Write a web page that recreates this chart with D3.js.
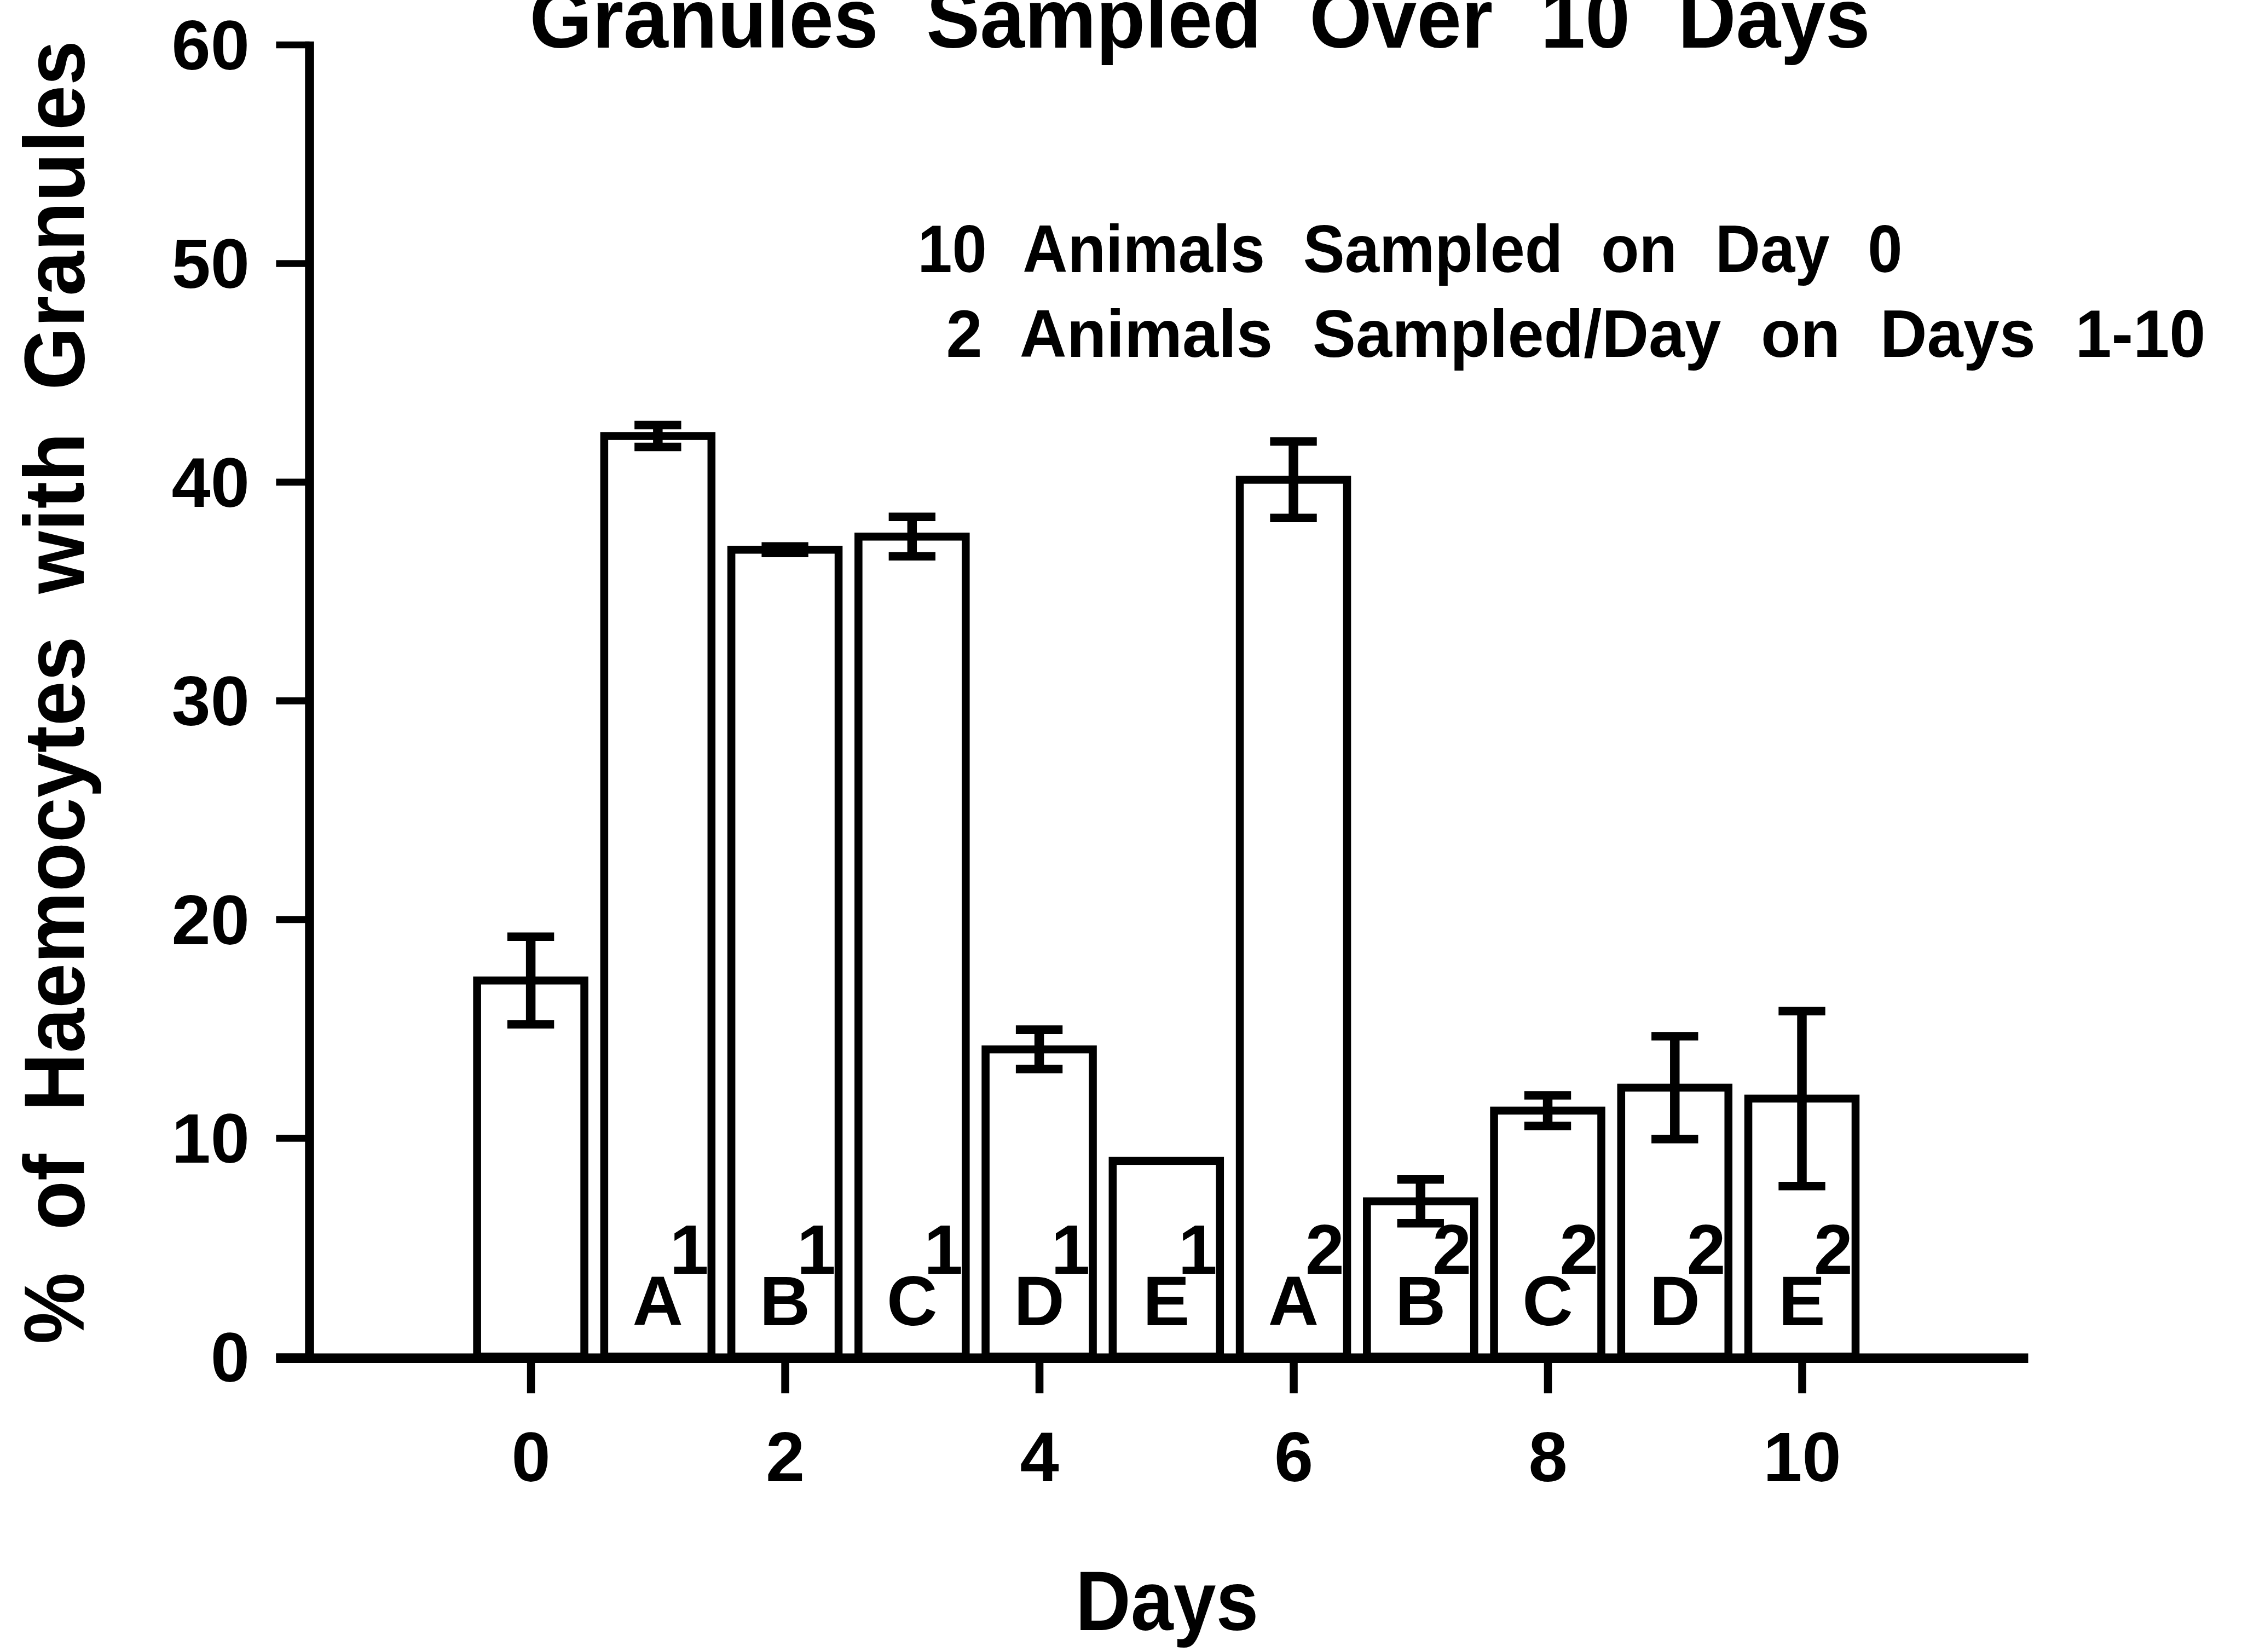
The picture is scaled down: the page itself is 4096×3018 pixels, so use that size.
<!DOCTYPE html>
<html>
<head>
<meta charset="utf-8">
<script src="https://cdn.jsdelivr.net/npm/d3@7"></script>
<style>
  html, body { margin: 0; padding: 0; background: #fff; overflow: hidden; }
  text { font-family: "Liberation Sans", Arial, Helvetica, sans-serif; font-weight: bold; fill: #000; }
</style>
</head>
<body>
<svg id="chart" width="4096" height="3018"></svg>
<script>
// Percentage of haemocytes with granules, per sampling day (mean and error)
const days       = [0, 1, 2, 3, 4, 5, 6, 7, 8, 9, 10];
const meanPct    = [17.2, 42.1, 36.9, 37.5, 14.05, 8.95, 40.1, 7.1, 11.25, 12.3, 11.8];
const errPct     = [2.0, 0.5, 0.15, 0.9, 0.9, 0, 1.75, 1.0, 0.7, 2.35, 4.0];
const animalTag  = ["", "A", "B", "C", "D", "E", "A", "B", "C", "D", "E"];
const roundTag   = ["", "1", "1", "1", "1", "1", "2", "2", "2", "2", "2"];

const xTicks = [0, 2, 4, 6, 8, 10];
const yTicks = [0, 10, 20, 30, 40, 50, 60];

const titleText = "Granules Sampled Over 10 Days";
const noteLines = ["10 Animals Sampled on Day 0", "2 Animals Sampled/Day on Days 1-10"];
const xTitle = "Days";
const yTitle = "% of Haemocytes with Granules";

// Layout is laid out on a 4220 x 3109 grid and scaled down to the window
const S = 0.97;
const svg = d3.select("#chart");
const root = svg.append("g").attr("transform", `scale(${S})`);

const xLo = -1.74, xHi = 11.78;
const x = d3.scaleLinear().domain([xLo, xHi]).range([583, 3820]);
const y = d3.scaleLinear().domain([0, 60]).range([2555, 84]);

const axisW = 17, tickW = 13, yTickLen = 63;
const barHalf = 101, barStroke = 15;
const capHalf = 44;
const labelSize = 132;

// ---- y axis ----
const yAxis = root.append("g")
  .attr("transform", `translate(${x(xLo)},0)`)
  .call(d3.axisLeft(y).tickValues(yTicks).tickSize(yTickLen).tickSizeOuter(0)
        .tickPadding(50).tickFormat(d3.format("d")));
yAxis.select(".domain").attr("stroke", "#000").attr("stroke-width", axisW)
  .attr("d", `M0,${y(60) - 6}V${y(0) + 4}`);
yAxis.selectAll(".tick line").attr("stroke", "#000").attr("stroke-width", tickW);
yAxis.selectAll(".tick text").attr("font-size", labelSize).attr("dy", "0.35em")
  .style("font-family", '"Liberation Sans", Arial, sans-serif').style("font-weight", "bold");

// ---- x axis ----
const xBase = y(0) + 3;
const xAxis = root.append("g")
  .attr("transform", `translate(0,${xBase})`)
  .call(d3.axisBottom(x).tickValues(xTicks).tickSize(66).tickSizeOuter(0)
        .tickPadding(72).tickFormat(d3.format("d")));
xAxis.select(".domain").remove();
xAxis.selectAll(".tick line").attr("stroke", "#000").attr("stroke-width", 15);
xAxis.selectAll(".tick text").attr("font-size", labelSize)
  .style("font-family", '"Liberation Sans", Arial, sans-serif').style("font-weight", "bold");
root.append("line")
  .attr("x1", x(xLo) - yTickLen).attr("x2", x(xHi))
  .attr("y1", xBase).attr("y2", xBase)
  .attr("stroke", "#000").attr("stroke-width", 18);

// ---- bars ----
const rows = days.map((d, i) => ({ d, m: meanPct[i], e: errPct[i], a: animalTag[i], r: roundTag[i] }));

root.append("g").selectAll("rect").data(rows).join("rect")
  .attr("x", r => x(r.d) - barHalf)
  .attr("width", barHalf * 2)
  .attr("y", r => y(r.m))
  .attr("height", r => y(0) - y(r.m))
  .attr("fill", "#fff")
  .attr("stroke", "#000")
  .attr("stroke-width", barStroke);

// ---- error bars ----
const eb = root.append("g").selectAll("g").data(rows.filter(r => r.e > 0)).join("g");
eb.append("line")
  .attr("x1", r => x(r.d)).attr("x2", r => x(r.d))
  .attr("y1", r => y(r.m + r.e)).attr("y2", r => y(r.m - r.e))
  .attr("stroke", "#000").attr("stroke-width", 18);
[1, -1].forEach(sgn => {
  eb.append("line")
    .attr("x1", r => x(r.d) - capHalf).attr("x2", r => x(r.d) + capHalf)
    .attr("y1", r => y(r.m + sgn * r.e)).attr("y2", r => y(r.m + sgn * r.e))
    .attr("stroke", "#000").attr("stroke-width", 16);
});

// ---- animal letter with sampling-round superscript inside each bar ----
const tagged = rows.filter(r => r.a);
const tags = root.append("g").selectAll("text").data(tagged).join("text")
  .attr("text-anchor", "middle").attr("font-size", labelSize);
tags.append("tspan")
  .attr("x", r => x(r.d)).attr("y", y(0) - 59)
  .text(r => r.a);
tags.append("tspan")
  .attr("x", r => x(r.d) + 59).attr("y", y(0) - 156)
  .text(r => r.r);

// ---- titles and notes ----
root.append("text")
  .attr("x", 2260).attr("y", 90)
  .attr("text-anchor", "middle").attr("font-size", 158)
  .style("word-spacing", "50px")
  .attr("textLength", 2525).attr("lengthAdjust", "spacingAndGlyphs")
  .text(titleText);

const noteX = [1728, 1782], noteY = [512, 672], noteLen = [1855, 2372];
noteLines.forEach((t, i) => {
  root.append("text")
    .attr("x", noteX[i]).attr("y", noteY[i])
    .attr("font-size", 126)
    .style("word-spacing", "42px")
    .attr("textLength", noteLen[i]).attr("lengthAdjust", "spacingAndGlyphs")
    .text(t);
});

root.append("text")
  .attr("x", 2198).attr("y", 3070)
  .attr("text-anchor", "middle").attr("font-size", 158)
  .attr("textLength", 345).attr("lengthAdjust", "spacingAndGlyphs")
  .text(xTitle);

root.append("text")
  .attr("transform", "translate(158,1304) rotate(-90)")
  .attr("text-anchor", "middle").attr("font-size", 160)
  .style("word-spacing", "40px")
  .attr("textLength", 2455).attr("lengthAdjust", "spacingAndGlyphs")
  .text(yTitle);
</script>
</body>
</html>
